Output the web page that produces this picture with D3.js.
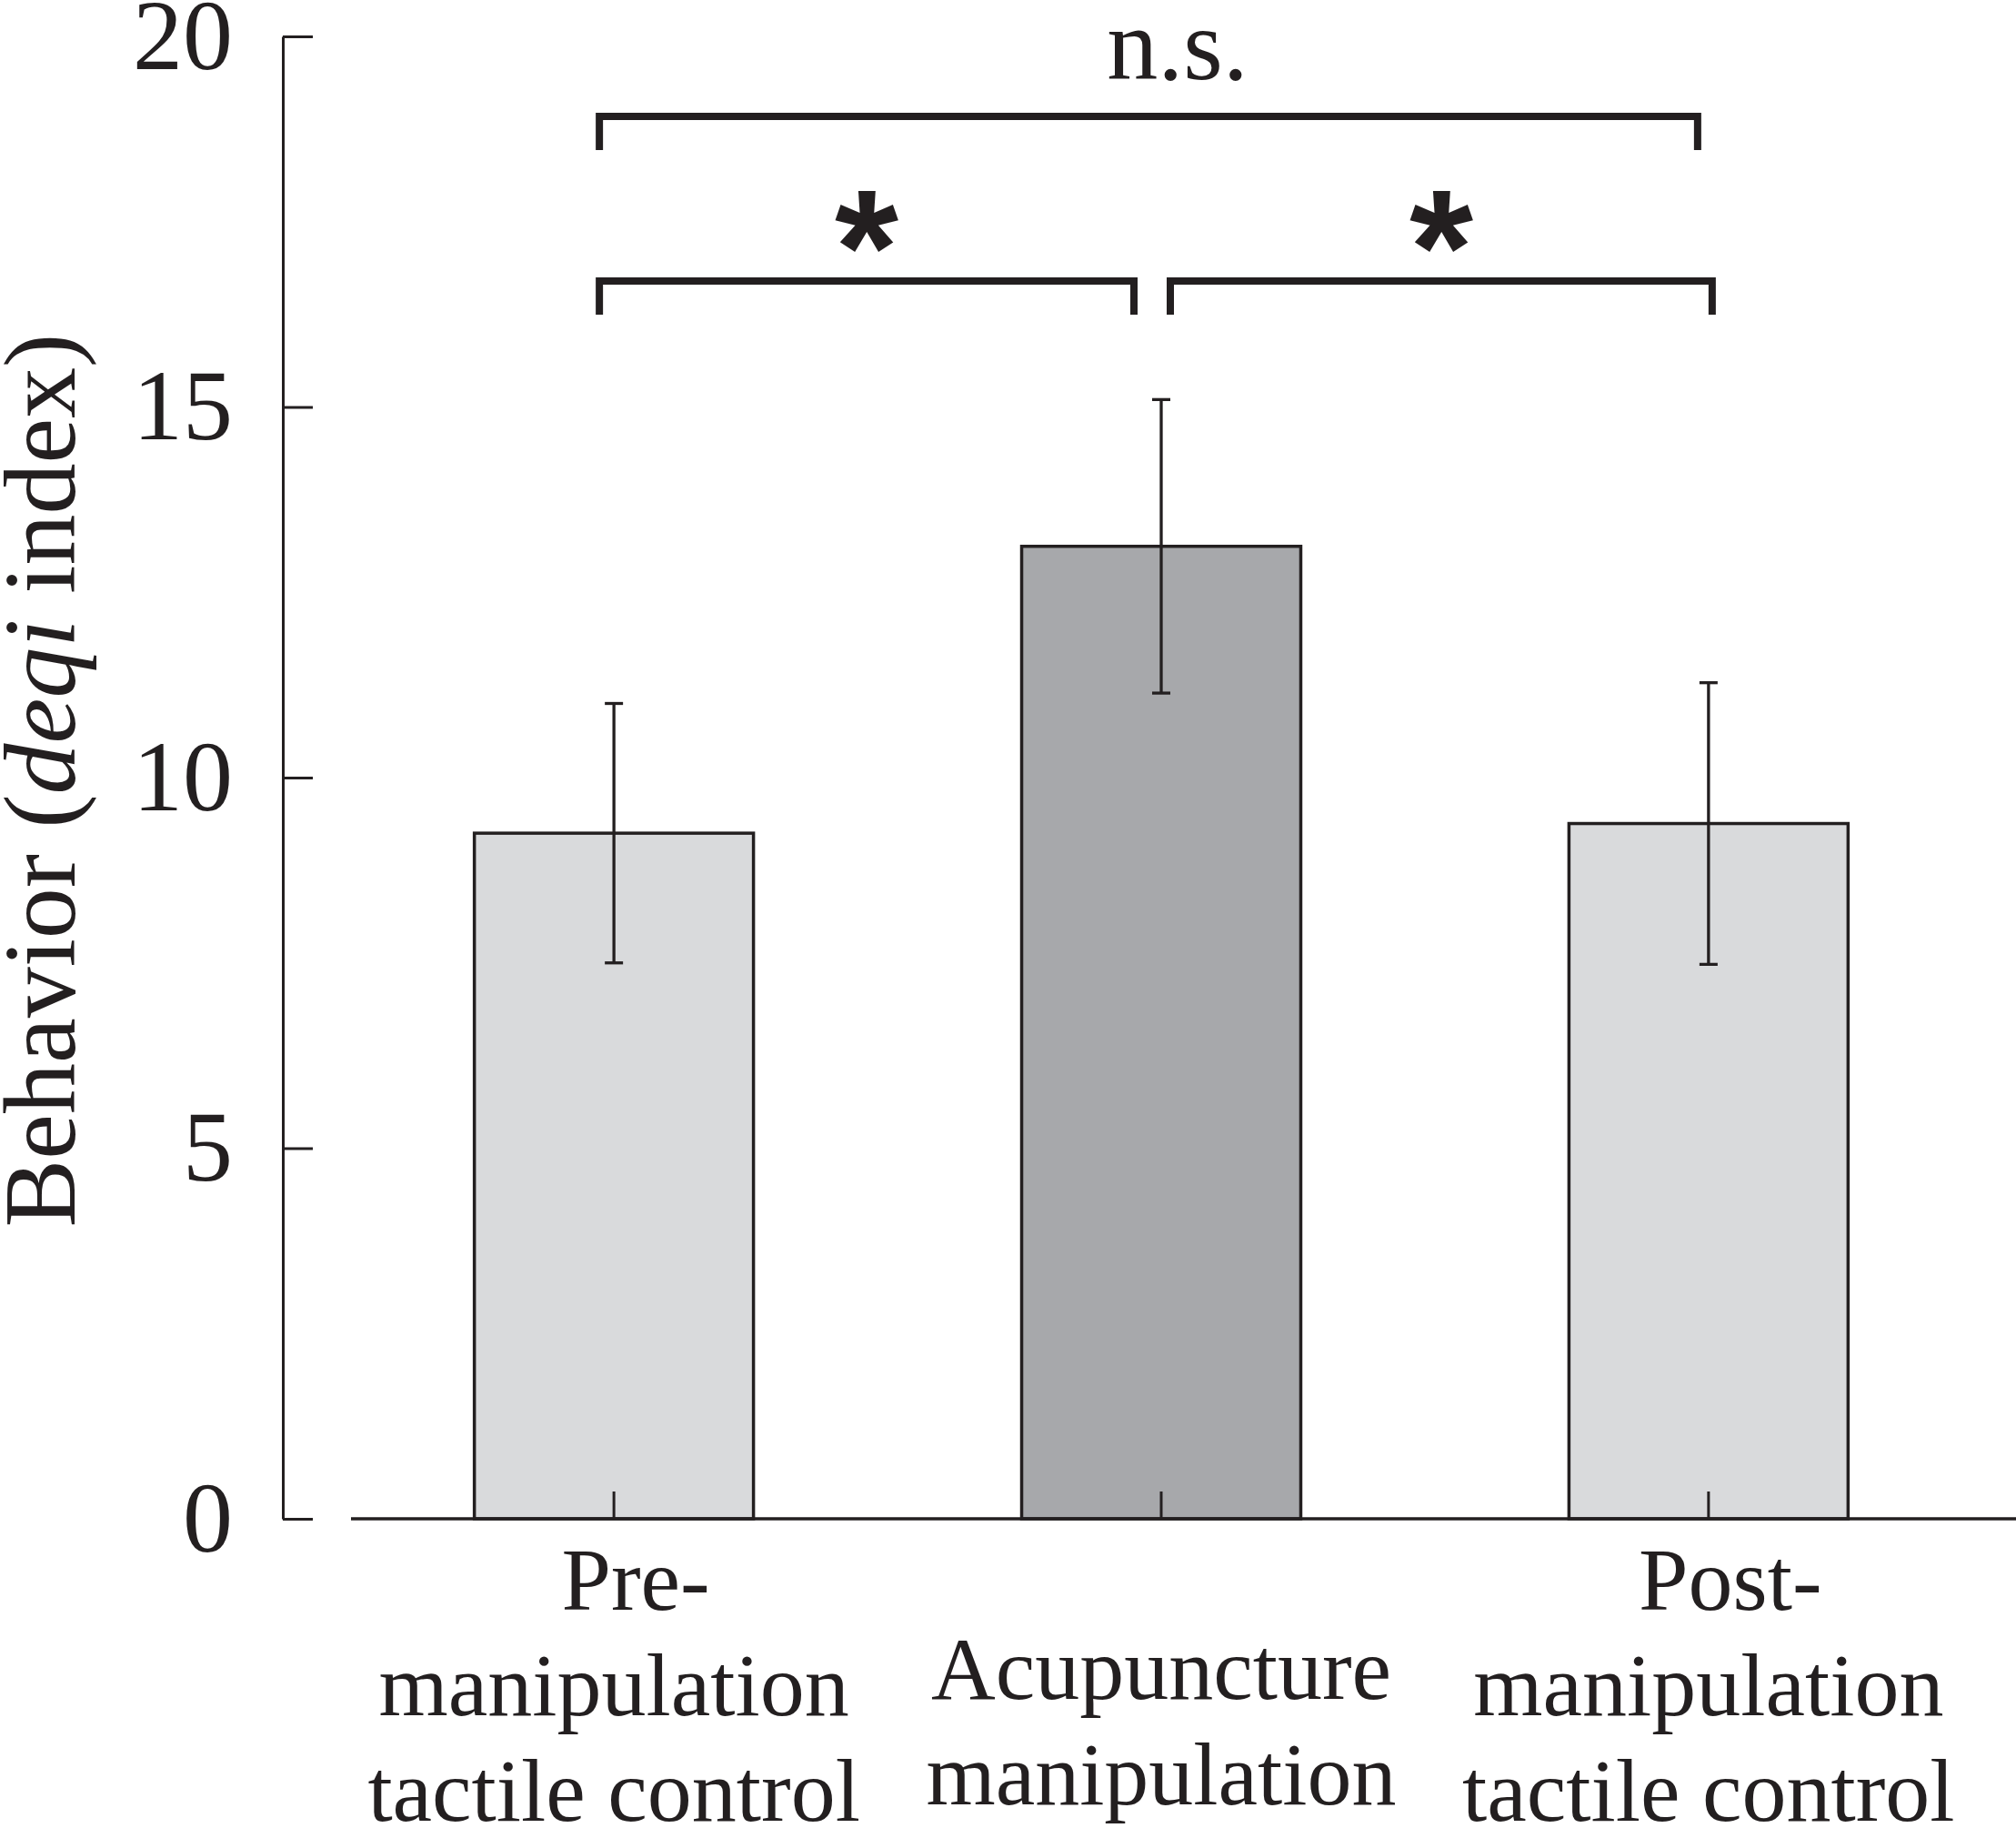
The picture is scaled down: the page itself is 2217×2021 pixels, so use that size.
<!DOCTYPE html>
<html>
<head>
<meta charset="utf-8">
<script src="https://cdn.jsdelivr.net/npm/d3@7"></script>
<style>
  body { margin: 0; background: #fff; }
  text { fill: #231f20; }
</style>
</head>
<body>
<div class="chart"></div>
<script>
var width = 2217, height = 2021

// data
var categories = ['Pre-manipulation tactile control', 'Acupuncture manipulation', 'Post-manipulation tactile control']
var labelLines = [['Pre-', 'manipulation', 'tactile control'], ['Acupuncture', 'manipulation'], ['Post-', 'manipulation', 'tactile control']]
var means = [9.25, 13.12, 9.38]
var errors = [1.75, 1.98, 1.9]
var barFills = ['#d9dadc', '#a7a8ab', '#d9dadc']
var yTicks = [0, 5, 10, 15, 20]
var comparisons = [
    { from: 0, to: 2, level: 18.92, label: 'n.s.' },
    { from: 0, to: 1, level: 16.7, label: '*' },
    { from: 1, to: 2, level: 16.7, label: '*' }
]

function barChart() {
    var ink = '#231f20'
    var serif = '"Liberation Serif", "Times New Roman", serif'

    var svg = d3.select('.chart')
        .append('svg')
        .attr('width', width)
        .attr('height', height)

    var x = d3.scaleBand()
        .domain(categories)
        .range([311, 2243])
        .paddingInner(0.49)
        .paddingOuter(0.35)

    var y = d3.scaleLinear()
        .domain([0, 20])
        .range([1670, 40])

    function xc(i) { return x(categories[i]) + x.bandwidth() / 2 }

    // bars
    svg.selectAll('rect.bar')
        .data(means)
        .enter()
        .append('rect')
        .attr('class', 'bar')
        .attr('x', function(d, i) { return x(categories[i]) })
        .attr('y', function(d) { return y(d) })
        .attr('width', x.bandwidth())
        .attr('height', function(d) { return y(0) - y(d) })
        .attr('fill', function(d, i) { return barFills[i] })
        .attr('stroke', ink)
        .attr('stroke-width', 3.5)

    // small category ticks at bottom
    svg.selectAll('line.xtick')
        .data(categories)
        .enter()
        .append('line')
        .attr('x1', function(d, i) { return xc(i) })
        .attr('x2', function(d, i) { return xc(i) })
        .attr('y1', y(0))
        .attr('y2', y(0) - 30)
        .attr('stroke', ink)
        .attr('stroke-width', 3)

    // error bars
    var eb = svg.selectAll('g.err')
        .data(means)
        .enter()
        .append('g')
    eb.append('line')
        .attr('x1', function(d, i) { return xc(i) })
        .attr('x2', function(d, i) { return xc(i) })
        .attr('y1', function(d, i) { return y(d + errors[i]) })
        .attr('y2', function(d, i) { return y(d - errors[i]) })
        .attr('stroke', ink)
        .attr('stroke-width', 3.3)
    eb.selectAll('line.cap')
        .data(function(d, i) { return [[i, d + errors[i]], [i, d - errors[i]]] })
        .enter()
        .append('line')
        .attr('x1', function(d) { return xc(d[0]) - 10 })
        .attr('x2', function(d) { return xc(d[0]) + 10 })
        .attr('y1', function(d) { return y(d[1]) })
        .attr('y2', function(d) { return y(d[1]) })
        .attr('stroke', ink)
        .attr('stroke-width', 3.3)

    // y axis, ticks pointing inward
    var yAxis = svg.append('g')
        .attr('transform', 'translate(311,0)')
        .call(d3.axisLeft(y).tickValues(yTicks).tickSize(-33).tickSizeOuter(0).tickPadding(55))
    yAxis.select('.domain').attr('stroke', ink).attr('stroke-width', 3)
    yAxis.selectAll('.tick line').attr('stroke', ink).attr('stroke-width', 3)
    yAxis.selectAll('.tick text')
        .attr('fill', ink)
        .style('font-family', serif)
        .style('font-size', '110px')

    // x baseline
    svg.append('line')
        .attr('x1', 386)
        .attr('x2', width)
        .attr('y1', y(0))
        .attr('y2', y(0))
        .attr('stroke', ink)
        .attr('stroke-width', 3.5)

    // category labels
    svg.selectAll('text.cat')
        .data(labelLines)
        .enter()
        .append('text')
        .attr('class', 'cat')
        .attr('text-anchor', 'middle')
        .style('font-family', serif)
        .style('font-size', '98px')
        .each(function(lines, i) {
            var y0 = 1770 + (3 - lines.length) * 98
            d3.select(this).selectAll('tspan')
                .data(lines)
                .enter()
                .append('tspan')
                .attr('x', function(d) { return xc(i) + (/-$/.test(d) ? 24 : 0) })
                .attr('y', function(d, j) { return y0 + j * 116 })
                .text(function(d) { return d })
        })

    // y axis title
    var title = svg.append('text')
        .attr('transform', 'translate(82,' + 858 + ') rotate(-90)')
        .attr('text-anchor', 'middle')
        .style('font-family', serif)
        .style('font-size', '112px')
    title.append('tspan').text('Behavior (')
    title.append('tspan').style('font-style', 'italic').text('deqi')
    title.append('tspan').text(' index)')

    // significance brackets
    comparisons.forEach(function(c) {
        var x1 = xc(c.from) - 16
        var x2 = xc(c.to) - 12
        if (c.level < 18) {
            if (c.from === 1) x1 = xc(c.from) + 10
            if (c.to === 1) x2 = xc(c.to) - 30
            if (c.to === 2) x2 = xc(c.to) + 4
        }
        var yy = y(c.level)
        var drop = 37
        svg.append('path')
            .attr('d', 'M' + x1 + ',' + (yy + drop) + 'V' + yy + 'H' + x2 + 'V' + (yy + drop))
            .attr('fill', 'none')
            .attr('stroke', ink)
            .attr('stroke-width', 8)
        var isStar = c.label === '*'
        svg.append('text')
            .attr('x', (x1 + x2) / 2 + (isStar ? 0 : 32))
            .attr('y', isStar ? yy + 25 : yy - 41)
            .attr('text-anchor', 'middle')
            .style('font-family', isStar ? '"Liberation Sans", Arial, sans-serif' : serif)
            .style('font-weight', isStar ? 'bold' : 'normal')
            .style('font-size', isStar ? '180px' : '112px')
            .text(c.label)
    })
}
barChart()
</script>
</body>
</html>
